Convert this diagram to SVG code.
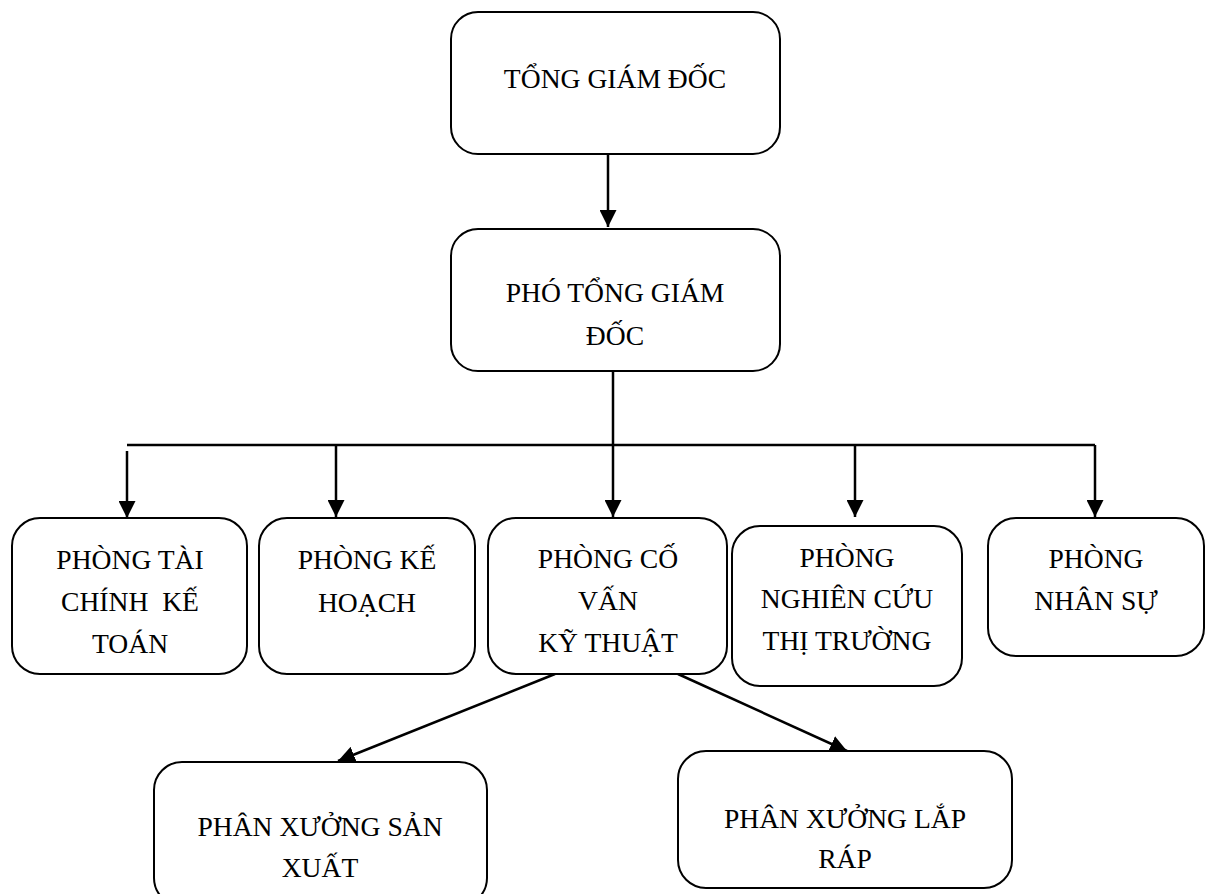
<svg xmlns="http://www.w3.org/2000/svg" width="1206" height="894" viewBox="0 0 1206 894">
  <style>
    .box { fill: #ffffff; stroke: #000000; stroke-width: 2; }
    .lbl { font-family: "Liberation Serif", "Times New Roman", serif; font-size: 27.6px; fill: #000000; text-anchor: middle; white-space: pre; }
    .conn { fill: none; stroke: #000000; stroke-width: 2.5; }
  </style>
  <defs>
    <marker id="arrow" viewBox="0 0 16 16" refX="16" refY="8" markerWidth="17" markerHeight="17" markerUnits="userSpaceOnUse" orient="auto">
      <path d="M0,0 L16,8 L0,16 z" fill="#000000"/>
    </marker>
  </defs>
  <rect width="1206" height="894" fill="#ffffff"/>

  <g id="connectors">
    <line class="conn" x1="608" y1="154" x2="608" y2="227" marker-end="url(#arrow)"/>
    <line class="conn" x1="127" y1="445" x2="1095" y2="445"/>
    <line class="conn" x1="613" y1="371" x2="613" y2="517" marker-end="url(#arrow)"/>
    <line class="conn" x1="127" y1="451" x2="127" y2="518" marker-end="url(#arrow)"/>
    <line class="conn" x1="336" y1="445" x2="336" y2="517" marker-end="url(#arrow)"/>
    <line class="conn" x1="855" y1="445" x2="855" y2="517" marker-end="url(#arrow)"/>
    <line class="conn" x1="1095" y1="445" x2="1095" y2="517" marker-end="url(#arrow)"/>
    <line class="conn" x1="555" y1="674" x2="338" y2="761" marker-end="url(#arrow)"/>
    <line class="conn" x1="678" y1="674" x2="847" y2="751" marker-end="url(#arrow)"/>
  </g>

  <g id="tong-giam-doc">
    <rect class="box" x="451" y="12" width="329" height="142" rx="27"/>
    <text class="lbl" x="615" y="88">TỔNG GIÁM ĐỐC</text>
  </g>

  <g id="pho-tong-giam-doc">
    <rect class="box" x="451" y="229" width="329" height="142" rx="27"/>
    <text class="lbl" x="615" y="302">PHÓ TỔNG GIÁM</text>
    <text class="lbl" x="615" y="345">ĐỐC</text>
  </g>

  <g id="phong-tai-chinh">
    <rect class="box" x="12" y="518" width="235" height="156" rx="28"/>
    <text class="lbl" x="130" y="569">PHÒNG TÀI</text>
    <text class="lbl" x="130" y="611">CHÍNH  KẾ</text>
    <text class="lbl" x="130" y="653">TOÁN</text>
  </g>

  <g id="phong-ke-hoach">
    <rect class="box" x="259" y="518" width="216" height="156" rx="28"/>
    <text class="lbl" x="367" y="569">PHÒNG KẾ</text>
    <text class="lbl" x="367" y="612">HOẠCH</text>
  </g>

  <g id="phong-co-van">
    <rect class="box" x="488" y="518" width="239" height="156" rx="28"/>
    <text class="lbl" x="608" y="568">PHÒNG CỐ</text>
    <text class="lbl" x="608" y="610">VẤN</text>
    <text class="lbl" x="608" y="652">KỸ THUẬT</text>
  </g>

  <g id="phong-nghien-cuu">
    <rect class="box" x="732" y="526" width="230" height="160" rx="28"/>
    <text class="lbl" x="847" y="567">PHÒNG</text>
    <text class="lbl" x="847" y="608">NGHIÊN CỨU</text>
    <text class="lbl" x="847" y="650">THỊ TRƯỜNG</text>
  </g>

  <g id="phong-nhan-su">
    <rect class="box" x="988" y="518" width="216" height="138" rx="28"/>
    <text class="lbl" x="1096" y="568">PHÒNG</text>
    <text class="lbl" x="1096" y="610">NHÂN SỰ</text>
  </g>

  <g id="phan-xuong-san-xuat">
    <rect class="box" x="154" y="762" width="333" height="144" rx="28"/>
    <text class="lbl" x="320" y="836">PHÂN XƯỞNG SẢN</text>
    <text class="lbl" x="320" y="877">XUẤT</text>
  </g>

  <g id="phan-xuong-lap-rap">
    <rect class="box" x="678" y="751" width="334" height="137" rx="28"/>
    <text class="lbl" x="845" y="828">PHÂN XƯỞNG LẮP</text>
    <text class="lbl" x="845" y="868">RÁP</text>
  </g>
</svg>
